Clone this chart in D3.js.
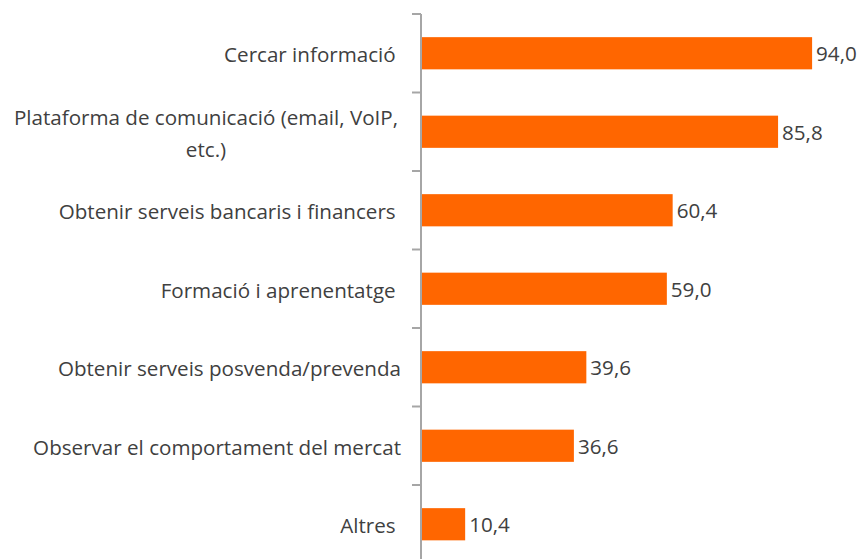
<!DOCTYPE html>
<html>
<head>
<meta charset="utf-8">
<script src="https://cdn.jsdelivr.net/npm/d3@7"></script>
<style>
  body { margin: 0; background: #fff; }
  svg { display: block; }
  text { white-space: pre; }
</style>
</head>
<body>
<div id="chart"></div>
<script>
// dades
const categories = [
    ['Cercar informació '],
    ['Plataforma de comunicació (email, VoIP,', 'etc.)'],
    ['Obtenir serveis bancaris i financers '],
    ['Formació i aprenentatge '],
    ['Obtenir serveis posvenda/prevenda'],
    ['Observar el comportament del mercat'],
    ['Altres ']
];
const values = [94.0, 85.8, 60.4, 59.0, 39.6, 36.6, 10.4];

const width = 863, height = 559;
const axisX = 421;
const font = "'Open Sans', sans-serif";
const fontSize = '20.6px';

const svg = d3.select('#chart').append('svg')
    .attr('width', width)
    .attr('height', height);

const y = d3.scaleBand()
    .domain(d3.range(categories.length))
    .range([14, 14 + 78.5 * categories.length])
    .paddingInner(0.59)
    .paddingOuter(0.295);

const x = d3.scaleLinear()
    .domain([0, 100])
    .range([axisX, axisX + 415]);

// eix
svg.append('line')
    .attr('x1', axisX).attr('x2', axisX)
    .attr('y1', 14).attr('y2', height)
    .attr('stroke', '#a6a6a6').attr('stroke-width', 2);

const step = y.step();
svg.selectAll('.tick')
    .data(d3.range(categories.length))
    .enter().append('line')
    .attr('x1', axisX - 9).attr('x2', axisX)
    .attr('y1', i => 14 + i * step)
    .attr('y2', i => 14 + i * step)
    .attr('stroke', '#a6a6a6').attr('stroke-width', 2);

// barres
svg.selectAll('.bar')
    .data(values)
    .enter().append('rect')
    .attr('x', x(0) + 1)
    .attr('y', (d, i) => y(i))
    .attr('width', d => x(d) - x(0))
    .attr('height', y.bandwidth())
    .attr('fill', '#ff6600');

// valors
svg.selectAll('.val')
    .data(values)
    .enter().append('text')
    .attr('x', d => x(d) + 5)
    .attr('y', (d, i) => y(i) + y.bandwidth() / 2 + 1)
    .attr('dy', '0.35em')
    .attr('fill', '#404040')
    .attr('font-family', font)
    .attr('font-size', fontSize)
    .text(d => d.toFixed(1).replace('.', ','));

// etiquetes
const labels = svg.selectAll('.lab')
    .data(categories)
    .enter().append('text')
    .attr('fill', '#404040')
    .attr('font-family', font)
    .attr('font-size', fontSize);

labels.each(function (lines, i) {
    const cy = y(i) + y.bandwidth() / 2 + 2;
    const lh = 32;
    const t = d3.select(this);
    const multi = lines.length > 1;
    lines.forEach((l, k) => {
        t.append('tspan')
            .attr('x', multi ? 206 : 401)
            .attr('text-anchor', multi ? 'middle' : 'end')
            .attr('y', cy + (k - (lines.length - 1) / 2) * lh)
            .attr('dy', '0.35em')
            .text(l);
    });
});
</script>
</body>
</html>
